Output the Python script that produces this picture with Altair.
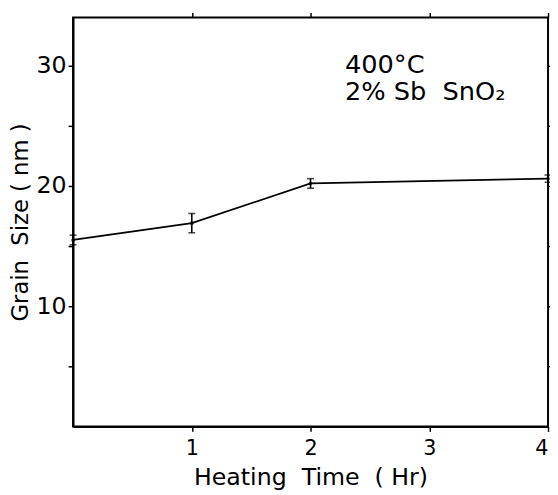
import altair as alt
import pandas as pd

# data
time_hr = [0, 1, 2, 4]
grain_nm = [15.5, 16.9, 20.2, 20.6]
err_nm = [0.4, 0.8, 0.4, 0.3]

x_ticks = [1, 2, 3, 4]
y_ticks = [5, 10, 15, 20, 25, 30]

NB = "\u00a0"
ann_text = ["400°C", "2%" + NB + "Sb" + NB + NB + "SnO₂"]
ann_x = [2.29, 2.29]
ann_y = [29.4, 27.1]

x_title = "Heating" + NB + NB + "Time" + NB + NB + "(" + NB + "Hr)"
y_title = "Grain" + NB + NB + "Size" + NB + "(" + NB + "nm" + NB + ")"

df = pd.DataFrame({"t": time_hr, "g": grain_nm, "e": err_nm})
df["lo"] = df["g"] - df["e"]
df["hi"] = df["g"] + df["e"]
ann = pd.DataFrame({"text": ann_text, "x": ann_x, "y": ann_y})

FONT = "DejaVu Sans"

xscale = alt.Scale(domain=[0, 4], nice=False, zero=False)
yscale = alt.Scale(domain=[0, 34], nice=False)

label_expr = "datum.value % 10 == 0 ? datum.label : ''"

xaxis = alt.Axis(values=x_ticks, title=x_title, labelFontSize=21,
                 titleFontSize=24, titleFontWeight="normal", labelPadding=6,
                 titlePadding=8, tickSize=5, grid=False, domainWidth=2,
                 tickWidth=1.5, domainColor="black", tickColor="black",
                 labelColor="black", titleColor="black", labelFont=FONT, titleFont=FONT)
yaxis = alt.Axis(values=y_ticks, labelExpr=label_expr, title=y_title,
                 labelFontSize=24, titleFontSize=23, titleFontWeight="normal",
                 labelPadding=2, titlePadding=4, tickSize=5, grid=False,
                 domainWidth=2, tickWidth=1.5, domainColor="black", tickColor="black",
                 labelColor="black", titleColor="black", labelFont=FONT, titleFont=FONT)

base = alt.Chart(df)
X = lambda f: alt.X(f, scale=xscale, axis=xaxis)
Y = lambda f: alt.Y(f, scale=yscale, axis=yaxis)

line = base.mark_line(color="black", strokeWidth=1.8).encode(x=X("t:Q"), y=Y("g:Q"))
rule = base.mark_rule(color="black", strokeWidth=1.6).encode(x=X("t:Q"), y=Y("lo:Q"), y2="hi:Q")
cap_lo = base.mark_tick(color="black", orient="horizontal", size=7, thickness=1.6).encode(
    x=X("t:Q"), y=Y("lo:Q"))
cap_hi = base.mark_tick(color="black", orient="horizontal", size=7, thickness=1.6).encode(
    x=X("t:Q"), y=Y("hi:Q"))
pts = base.mark_point(color="black", filled=True, size=14).encode(x=X("t:Q"), y=Y("g:Q"))
text = alt.Chart(ann).mark_text(align="left", baseline="alphabetic", fontSize=26,
                                font=FONT, color="black").encode(
    x=X("x:Q"), y=Y("y:Q"), text="text:N")

main = alt.layer(line, rule, cap_lo, cap_hi, pts, text)

# ticks on the right and top sides (no labels)
frame_ticks = alt.Chart(df).mark_point(opacity=0).encode(
    x=alt.X("t:Q", scale=xscale, axis=alt.Axis(orient="top", values=x_ticks, labels=False,
                                                 title=None, tickSize=5, domain=False,
                                                 tickColor="black", tickWidth=1.5, grid=False)),
    y=alt.Y("g:Q", scale=yscale, axis=alt.Axis(orient="right", values=y_ticks, labels=False,
                                                 title=None, tickSize=5, domain=False,
                                                 tickColor="black", tickWidth=1.5, grid=False)),
)

chart = alt.layer(main, frame_ticks).resolve_axis(
    x="independent", y="independent"
).properties(
    width=482, height=415,
    autosize=alt.AutoSizeParams(type="none"),
    padding={"left": 66, "top": 6, "right": 2, "bottom": 66},
    background="white",
).configure_view(stroke="black", strokeWidth=2)

chart.save("out.html", embed_options={"renderer": "svg", "actions": False})
